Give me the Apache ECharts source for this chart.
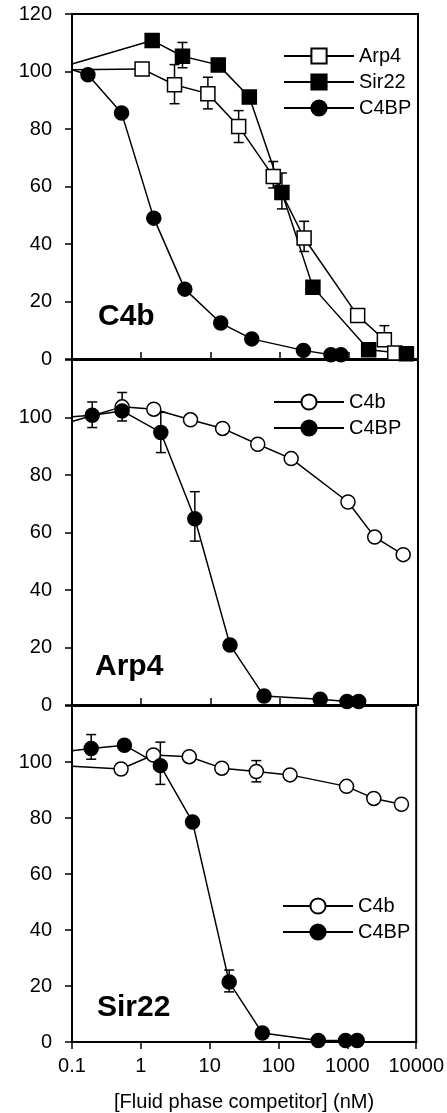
<!DOCTYPE html>
<html>
<head>
<meta charset="utf-8">
<script src="https://cdn.jsdelivr.net/npm/echarts@6/dist/echarts.min.js"></script>
<style>
  html, body { margin: 0; padding: 0; background: #fff; }
  #chart { width: 447px; height: 1113px; }
</style>
</head>
<body>
<div id="chart"></div>
<script>
// x: competitor concentration (nM), y: binding (%)
// panel 1 - immobilised C4b
const c4bArp4X = [0.1, 1.03, 3.03, 9.2, 25.6, 81, 226, 1343, 3266, 4613];
const c4bArp4Y = [100.6, 100.9, 95.4, 92.3, 80.9, 63.5, 42.1, 15.1, 6.7, 2.1];
const c4bSir22X = [0.1, 1.44, 3.95, 13, 36.5, 108, 303, 1937, 6800];
const c4bSir22Y = [102.6, 110.8, 105.3, 102.3, 91.1, 57.9, 25.0, 3.2, 1.8];
const c4bC4bpX = [0.1, 0.17, 0.52, 1.52, 4.27, 14.1, 39.6, 221, 552, 771];
const c4bC4bpY = [100.6, 98.9, 85.6, 49.0, 24.3, 12.5, 7.0, 3.0, 1.5, 1.5];
// [x, low, high]
const c4bErr = [
  [3.03, 88.8, 102.4], [9.2, 87, 98], [25.6, 75.3, 86.4], [81, 59.5, 68.7],
  [226, 37.4, 47.9], [3266, 6.7, 11.6], [3.95, 101.3, 110.1], [108, 52.2, 64.7]
];

// panel 2 - immobilised Arp4
const arp4C4bX = [0.1, 0.53, 1.52, 5.16, 15, 48.3, 147, 973, 2366, 6110];
const arp4C4bY = [98.6, 103.7, 102.9, 99.2, 96.2, 90.7, 85.7, 70.6, 58.4, 52.3];
const arp4C4bpX = [0.1, 0.196, 0.53, 1.92, 5.96, 19.2, 59.6, 386, 942, 1387];
const arp4C4bpY = [100.3, 100.8, 102.3, 94.8, 64.8, 20.9, 3.1, 2.0, 1.2, 1.2];
const arp4Err = [
  [0.196, 96.5, 105.4], [0.53, 98.8, 108.7], [1.92, 87.8, 101.8], [5.96, 57, 74.2]
];

// panel 3 - immobilised Sir22
const sir22C4bX = [0.1, 0.516, 1.52, 5.05, 15, 47.6, 147, 973, 2421, 6110];
const sir22C4bY = [98.5, 97.5, 102.5, 101.9, 97.8, 96.6, 95.4, 91.3, 87.0, 84.9];
const sir22C4bpX = [0.1, 0.19, 0.577, 1.92, 5.63, 19.2, 58.2, 378, 942, 1387];
const sir22C4bpY = [104, 104.8, 106, 98.7, 78.6, 21.4, 3.2, 0.5, 0.5, 0.5];
const sir22Err = [
  [0.19, 101, 109.8], [1.92, 92, 107.1], [19.2, 17.9, 25.7], [47.6, 92.9, 100.5]
];

const panelLabels = ['C4b', 'Arp4', 'Sir22'];
const xTicks = [0.1, 1, 10, 100, 1000, 10000];
const yTicks = [0, 20, 40, 60, 80, 100, 120];

const FONT = 'Liberation Sans, Arial, Helvetica, sans-serif';
const chart = echarts.init(document.getElementById('chart'));

function lineSeries(name, xs, ys, gi, symbol, filled) {
  return {
    type: 'line', name: name, xAxisIndex: gi, yAxisIndex: gi, z: 3,
    data: xs.map((x, i) => x === xTicks[0] ? { value: [x, ys[i]], symbol: 'none' } : [x, ys[i]]),
    symbol: symbol, symbolSize: 14,
    itemStyle: { color: filled ? '#000' : '#fff', borderColor: '#000', borderWidth: 1.5 },
    lineStyle: { color: '#000', width: 1.5 }
  };
}

function errSeries(rows, gi) {
  return {
    type: 'custom', xAxisIndex: gi, yAxisIndex: gi, z: 1, data: rows,
    renderItem: function (params, api) {
      const x = api.value(0);
      const lo = api.coord([x, api.value(1)]);
      const hi = api.coord([x, api.value(2)]);
      const w = 5;
      const st = { stroke: '#000', lineWidth: 1.5 };
      return {
        type: 'group', children: [
          { type: 'line', shape: { x1: lo[0], y1: lo[1], x2: hi[0], y2: hi[1] }, style: st },
          { type: 'line', shape: { x1: lo[0] - w, y1: lo[1], x2: lo[0] + w, y2: lo[1] }, style: st },
          { type: 'line', shape: { x1: hi[0] - w, y1: hi[1], x2: hi[0] + w, y2: hi[1] }, style: st }
        ]
      };
    }
  };
}

const grids = [
  { left: 72, width: 346, top: 14, height: 345 },
  { left: 72, width: 346, top: 360, height: 345 },
  { left: 72, width: 346, top: 706, height: 342 }
].map(g => Object.assign(g, { show: true, borderColor: '#000', borderWidth: 2 }));

const xAxes = [0, 1, 2].map(i => ({
  gridIndex: i, type: 'log', logBase: 10, min: xTicks[0], max: xTicks[xTicks.length - 1],
  axisLine: { show: true, onZero: false, lineStyle: { color: '#000', width: 2 } },
  axisTick: { show: true, inside: i < 2, length: 7, lineStyle: { color: '#000', width: 1.5 } },
  axisLabel: {
    show: i === 2, fontSize: 20, color: '#000', fontFamily: FONT, margin: 14,
    formatter: v => String(+(+v).toPrecision(6))
  },
  splitLine: { show: false },
  name: i === 2 ? '[Fluid phase competitor] (nM)' : '',
  nameLocation: 'middle', nameGap: 50,
  nameTextStyle: { fontSize: 20, color: '#000', fontFamily: FONT }
}));

const yAxes = [0, 1, 2].map(i => ({
  gridIndex: i, type: 'value', min: yTicks[0], max: yTicks[yTicks.length - 1], interval: 20,
  axisLine: { show: true, lineStyle: { color: '#000', width: 2 } },
  axisTick: { show: true, length: 7, lineStyle: { color: '#000', width: 1.5 } },
  axisLabel: {
    fontSize: 20, color: '#000', fontFamily: FONT, margin: 20,
    formatter: v => (i > 0 && v === 120) ? '' : String(v)
  },
  splitLine: { show: false }
}));

const legendBase = {
  orient: 'vertical', itemWidth: 70, itemHeight: 19, itemGap: 6,
  textStyle: { fontSize: 20, color: '#000', fontFamily: FONT }
};

chart.setOption({
  animation: false,
  backgroundColor: '#fff',
  grid: grids,
  xAxis: xAxes,
  yAxis: yAxes,
  title: [
    { text: panelLabels[0], left: 93, top: 297 },
    { text: panelLabels[1], left: 90, top: 647 },
    { text: panelLabels[2], left: 92, top: 988 }
  ].map(t => Object.assign(t, { textStyle: { fontSize: 30, fontWeight: 'bold', color: '#000', fontFamily: FONT } })),
  legend: [
    Object.assign({ data: ['Arp4', 'Sir22', 'C4BP'], left: 278, top: 41 }, legendBase),
    Object.assign({ data: ['C4b', 'C4BP'], left: 268, top: 387 }, legendBase),
    Object.assign({ data: ['C4b', 'C4BP'], left: 277, top: 891 }, legendBase)
  ],
  series: [
    errSeries(c4bErr, 0),
    lineSeries('Arp4', c4bArp4X, c4bArp4Y, 0, 'rect', false),
    lineSeries('Sir22', c4bSir22X, c4bSir22Y, 0, 'rect', true),
    lineSeries('C4BP', c4bC4bpX, c4bC4bpY, 0, 'circle', true),
    errSeries(arp4Err, 1),
    lineSeries('C4b', arp4C4bX, arp4C4bY, 1, 'circle', false),
    lineSeries('C4BP', arp4C4bpX, arp4C4bpY, 1, 'circle', true),
    errSeries(sir22Err, 2),
    lineSeries('C4b', sir22C4bX, sir22C4bY, 2, 'circle', false),
    lineSeries('C4BP', sir22C4bpX, sir22C4bpY, 2, 'circle', true)
  ]
});
</script>
</body>
</html>
